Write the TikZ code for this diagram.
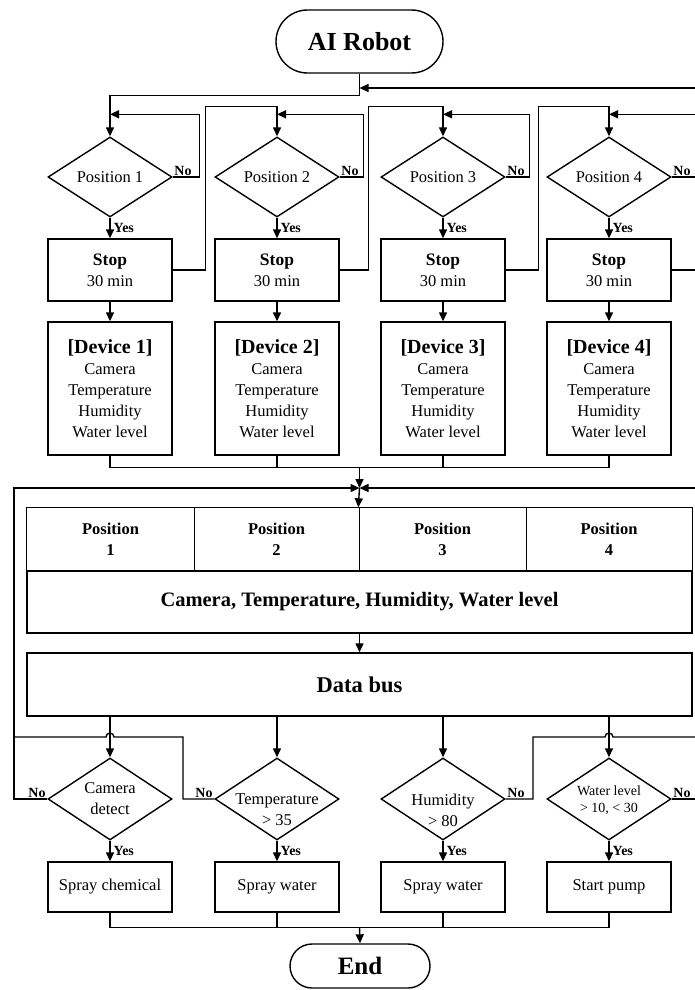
\documentclass[tikz,border=0pt]{standalone}
\usepackage{fontspec}
\setmainfont{Liberation Serif}
\usetikzlibrary{arrows.meta,shapes.geometric,calc}
\newcommand\myfs[2]{\fontsize{#1}{#2}\selectfont}
\begin{document}
\begin{tikzpicture}[x=1pt,y=-1pt, line width=1.4pt,
  box/.style={draw, rectangle, inner sep=0pt, align=center, minimum width=124pt},
  term/.style={draw, rectangle, inner sep=0pt, align=center},
  dia/.style={draw, diamond, inner sep=0pt, minimum width=124pt, minimum height=80pt},
  dtext/.style={align=center, inner sep=0pt, font=\myfs{16.5}{21}},
  cell/.style={rectangle, inner sep=0pt, align=center, minimum height=63pt, font=\bfseries\myfs{16.5}{21}},
  arr/.style={-{Triangle[length=9pt,width=8pt]}},
  lbl/.style={font=\bfseries\myfs{14}{15}, inner sep=1pt},
  txt/.style={font=\myfs{16.5}{21}}
]
\useasboundingbox (0,0) rectangle (695,990);
\clip (0,0) rectangle (695,990);

% start
\node[term, rounded corners=31.5pt, minimum width=167pt, minimum height=63pt, font=\bfseries\myfs{26}{30}] (robot) at (359.5,41.5) {AI Robot};

% top diamonds
\foreach \i/\x in {1/110,2/277,3/443,4/609}{
  \node[dia] (d\i) at (\x,177) {};
  \node[dtext] (dt\i) at (d\i) {Position \i};
  \node[box, minimum height=62pt, font=\myfs{16.5}{21}] (s\i) at (\x,270) {\textbf{\myfs{17.5}{21}Stop}\\30 min};
  \node[box, minimum height=133pt, font=\myfs{16.5}{21}] (v\i) at (\x,388.5) {\textbf{\myfs{20}{21}[Device \i]}\\Camera\\Temperature\\Humidity\\Water level};
  \draw[arr] (d\i.south) -- (s\i.north);
  \draw[arr] (s\i.south) -- (v\i.north);
  \node[lbl, anchor=west] at ($(d\i.south)!0.5!(s\i.north)+(2,0)$) {Yes};
  \node[lbl, anchor=south west] at (d\i.east) {No};
}

% entry from robot
\draw[arr] (robot.south) -- ++(0,21.5) -| (d1.north);
% No loops
\draw[arr] (d1.east) -- ++(27,0) |- ($(d1.north)+(0,-22)$);
\draw[arr] (d2.east) -- ++(24,0) |- ($(d2.north)+(0,-22)$);
\draw[arr] (d3.east) -- ++(24,0) |- ($(d3.north)+(0,-22)$);
\draw[arr] (d4.east) -- ++(26,0) |- ($(d4.north)+(0,-22)$);
% stop to next position
\draw[arr] (s1.east) -- ++(33,0) |- ($(d2.north)+(0,-30)$) -- (d2.north);
\draw[arr] (s2.east) -- ++(29,0) |- ($(d3.north)+(0,-30)$) -- (d3.north);
\draw[arr] (s3.east) -- ++(33,0) |- ($(d4.north)+(0,-30)$) -- (d4.north);
\coordinate (rj) at (359.5,88);
\draw[arr] (s4.east) -- ++(34,0) |- (rj);

% merge of devices
\coordinate (m1) at (359.5,467);
\coordinate (j) at (359.5,488);
\draw (v1.south) -- ++(0,11.5) -| (v4.south);
\draw (v2.south) -- ++(0,11.5);
\draw (v3.south) -- ++(0,11.5);
\draw[arr] (m1) -- (j);

% table
\node[cell, minimum width=167pt] (p1) at (110.5,539.5) {Position\\1};
\node[cell, minimum width=165pt] (p2) at (276.5,539.5) {Position\\2};
\node[cell, minimum width=167pt] (p3) at (442.5,539.5) {Position\\3};
\node[cell, minimum width=166pt] (p4) at (609,539.5) {Position\\4};
\node[draw, rectangle, inner sep=0pt, minimum width=665pt, minimum height=62pt, font=\bfseries\myfs{20.5}{24}] (cam) at (359.5,602) {Camera, Temperature, Humidity, Water level};
\draw (p1.north west) rectangle (cam.south east);
\draw (p1.north east) -- (p1.south east);
\draw (p3.north east) -- (p3.south east);
\draw[line width=0.5pt] (p2.north east) -- (p2.south east);
\draw[arr] (j) -- (p3.north west);

% data bus
\node[draw, rectangle, inner sep=0pt, minimum width=665pt, minimum height=63pt, font=\bfseries\myfs{22.5}{26}] (bus) at (359.5,684.5) {Data bus};
\draw[arr] (cam.south) -- (bus.north);

% bottom diamonds and actions
\foreach \i/\x/\a in {1/110/{Spray chemical},2/277/{Spray water},3/443/{Spray water},4/609/{Start pump}}{
  \node[dia, minimum height=82pt] (e\i) at (\x,799) {};
  \node[box, minimum height=50pt, font=\myfs{16.5}{21}] (a\i) at (\x,887) {\a};
  \draw[arr] (bus.south -| e\i.north) -- (e\i.north);
  \draw[arr] (e\i.south) -- (a\i.north);
  \node[lbl, anchor=west] at ($(e\i.south)!0.5!(a\i.north)+(2,0)$) {Yes};
}
\node[dtext] at (e1) {Camera\\detect};
\node[dtext] at ($(e2)+(0,11)$) {Temperature\\> 35};
\node[dtext] at ($(e3)+(0,11)$) {Humidity\\> 80};
\node[dtext, font=\myfs{14}{17}] at ($(e4)+(0,1)$) {Water level\\> 10, < 30};
\node[lbl, anchor=south east] at (e1.west) {No};
\node[lbl, anchor=south east] at (e2.west) {No};
\node[lbl, anchor=south west] at (e3.east) {No};
\node[lbl, anchor=south west] at (e4.east) {No};

% feedback loops
\draw[arr] (e1.west) -- (14,799) -- (14,488) -- (j);
\draw (e2.west) -- (183,799) -- (183,737) -- (114,737) arc[start angle=0,end angle=180,radius=4pt] -- (14,737);
\draw (e3.east) -- (533,799) -- (533,737) -- (605,737) arc[start angle=180,end angle=0,radius=4pt] -- (705,737);
\draw[arr] (e4.east) -- (705,799) -- (705,488) -- (j);

% end
\coordinate (m2) at (359.5,927);
\draw (a1.south) -- ++(0,15) -| (a4.south);
\draw (a2.south) -- ++(0,15);
\draw (a3.south) -- ++(0,15);
\node[term, rounded corners=22pt, minimum width=140pt, minimum height=44pt, font=\bfseries\myfs{25}{28}] (endn) at (360,966) {End};
\draw[arr] (m2) -- (endn.north);
\end{tikzpicture}
\end{document}
